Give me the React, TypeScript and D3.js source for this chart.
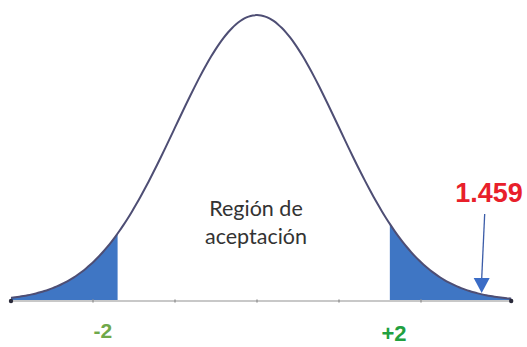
import { useEffect, useRef } from 'react';
import * as d3 from 'd3';

// z values
const curveRange = [-3.0, 3.1];
const leftTail = [-3.0, -1.7];
const rightTail = [1.62, 3.1];
const tickValues = [-2, -1, 0, 1, 2];
const tailLabels = ['-2', '+2'];
const tailLabelZ = [-1.88, 1.67];
const criticalLabel = '1.459';
const criticalZ = 2.74;
const regionLines = ['Región de', 'aceptación'];

const width = 527;
const height = 347;

const pdf = (z: number) => Math.exp(-z * z / 2) / Math.sqrt(2 * Math.PI);

const App = () => {
    const ref = useRef<SVGSVGElement>(null);

    useEffect(() => {
        if (!ref.current) return;
        const svg = d3.select(ref.current);
        svg.selectAll('*').remove();

        const x = d3.scaleLinear().domain([-3, 3]).range([11, 503]);
        const y = d3.scaleLinear().domain([0, pdf(0)]).range([301, 15]);

        const line = d3.line<number>().x(d => x(d)).y(d => y(pdf(d))).curve(d3.curveBasis);
        const area = d3.area<number>().x(d => x(d)).y0(y(0)).y1(d => y(pdf(d)));

        const pts = (a: number, b: number) => d3.range(a, b + 1e-9, (b - a) / 120);

        // shaded tails
        [leftTail, rightTail].forEach(t => {
            svg.append('path')
                .attr('d', area(pts(t[0], t[1])))
                .attr('fill', '#3f76c4');
        });

        // baseline
        svg.append('line')
            .attr('x1', x(-3)).attr('x2', x(3.1))
            .attr('y1', y(0)).attr('y2', y(0))
            .attr('stroke', '#c8c8c8')
            .attr('stroke-width', 2);

        svg.append('g')
            .selectAll('line')
            .data(tickValues)
            .join('line')
            .attr('x1', d => x(d)).attr('x2', d => x(d))
            .attr('y1', y(0) - 1.5).attr('y2', y(0) + 1.5)
            .attr('stroke', '#999')
            .attr('stroke-width', 1.5);

        // curve
        svg.append('path')
            .attr('d', line(pts(curveRange[0], curveRange[1])))
            .attr('fill', 'none')
            .attr('stroke', '#4e4e74')
            .attr('stroke-width', 2);

        svg.append('g')
            .selectAll('circle')
            .data(curveRange)
            .join('circle')
            .attr('cx', d => x(d))
            .attr('cy', y(0))
            .attr('r', 2.2)
            .attr('fill', '#2a2a3a');

        // region text
        svg.append('text')
            .attr('x', 256)
            .attr('y', 216)
            .attr('text-anchor', 'middle')
            .attr('font-family', 'Lato, sans-serif')
            .attr('font-size', 21.5)
            .attr('fill', '#333')
            .selectAll('tspan')
            .data(regionLines)
            .join('tspan')
            .attr('x', 256)
            .attr('dy', (d, i) => (i === 0 ? 0 : 28))
            .text(d => d);

        // tail labels
        svg.append('text')
            .attr('x', x(tailLabelZ[0]))
            .attr('y', 338)
            .attr('text-anchor', 'middle')
            .attr('font-family', 'Liberation Sans, Arial, sans-serif')
            .attr('font-weight', 'bold')
            .attr('font-size', 21)
            .attr('fill', '#6fa84a')
            .text(tailLabels[0]);

        svg.append('text')
            .attr('x', x(tailLabelZ[1]))
            .attr('y', 341)
            .attr('text-anchor', 'middle')
            .attr('font-family', 'Liberation Sans, Arial, sans-serif')
            .attr('font-weight', 'bold')
            .attr('font-size', 22)
            .attr('fill', '#21a040')
            .text(tailLabels[1]);

        // critical value with arrow
        const ax = x(criticalZ);
        svg.append('text')
            .attr('x', 489)
            .attr('y', 202)
            .attr('text-anchor', 'middle')
            .attr('font-family', 'Liberation Sans, Arial, sans-serif')
            .attr('font-weight', 'bold')
            .attr('font-size', 27)
            .attr('fill', '#e8202a')
            .text(criticalLabel);

        svg.append('line')
            .attr('x1', ax + 3).attr('y1', 214)
            .attr('x2', ax).attr('y2', 279)
            .attr('stroke', '#3b5ca8')
            .attr('stroke-width', 1.3);

        svg.append('path')
            .attr('d', `M${ax - 8},278 L${ax + 8},278 L${ax},293 Z`)
            .attr('fill', '#3a6cc6');
    }, []);

    return <svg ref={ref} width={width} height={height} style={{ position: 'absolute', left: 0, top: 0 }} />;
};

export default App;
